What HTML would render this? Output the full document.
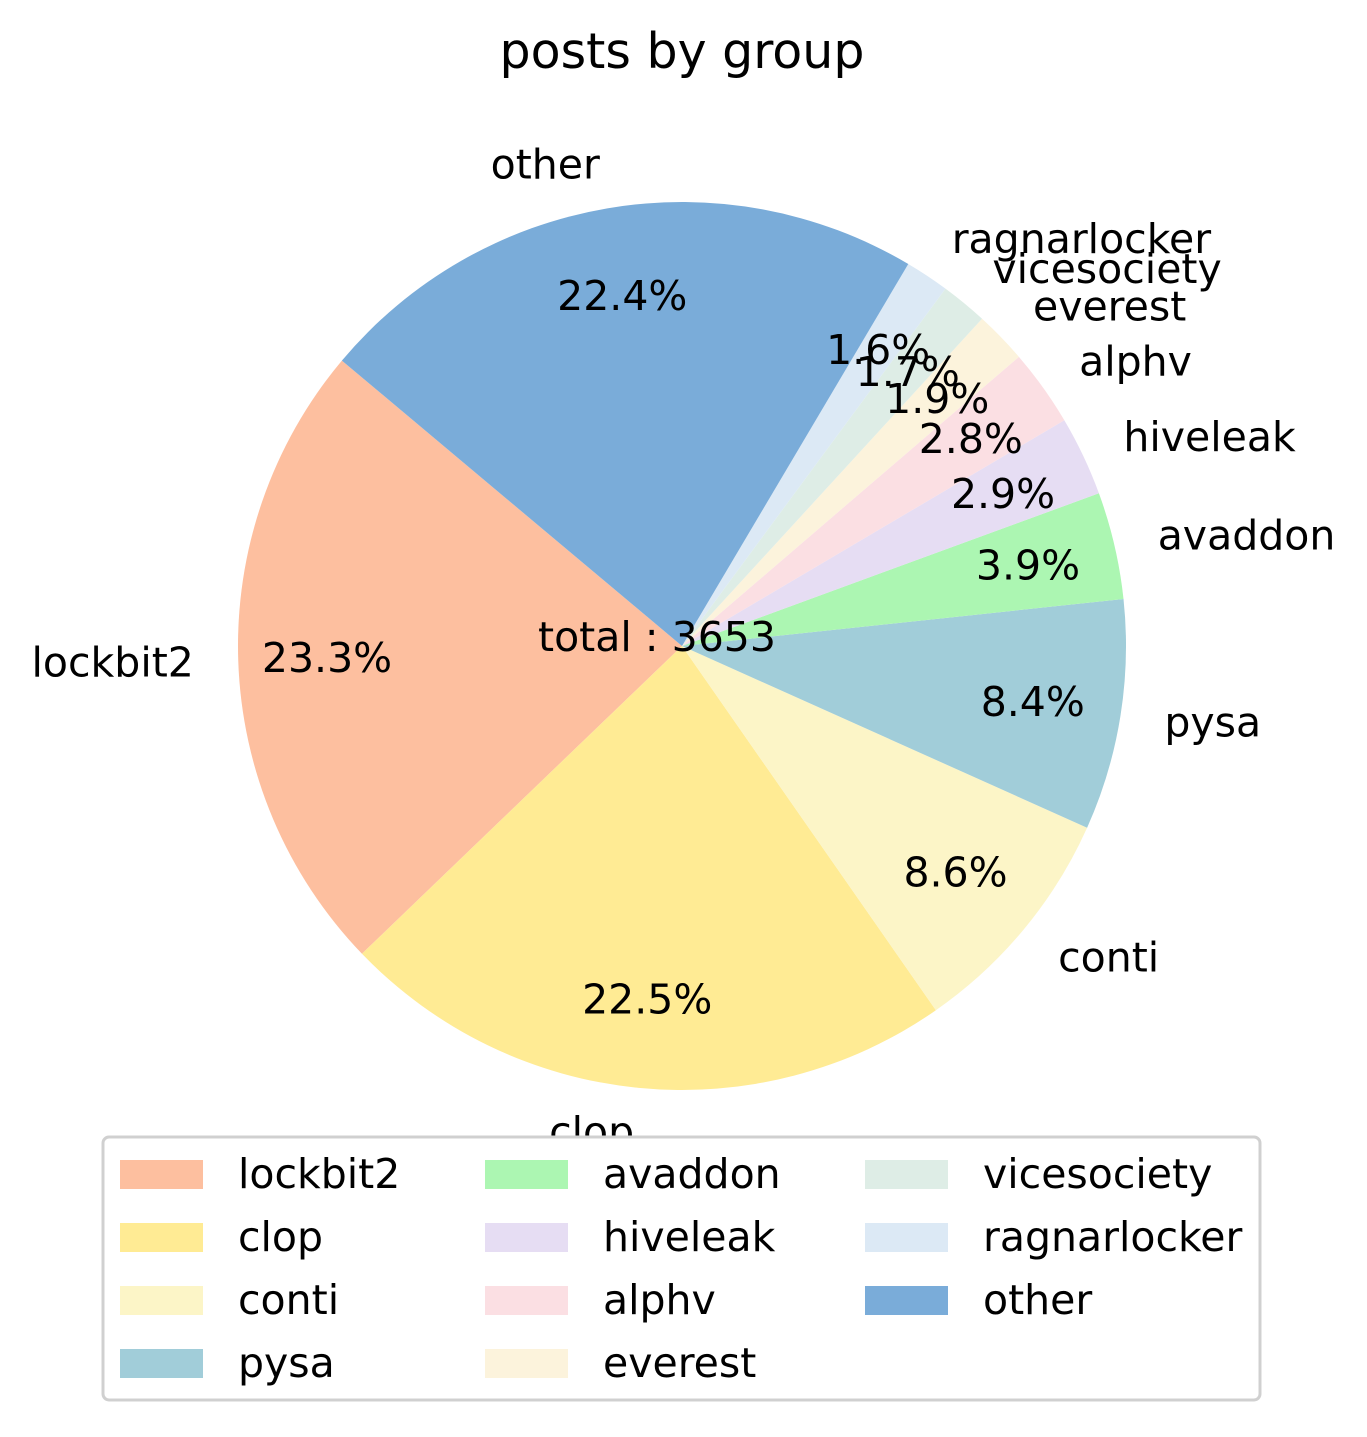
<!DOCTYPE html>
<html><head><meta charset="utf-8"><style>
body{margin:0;background:#fff}
svg text{font-family:"DejaVu Sans","Liberation Sans",sans-serif;fill:#000}
</style></head><body>
<svg id="chart" width="1367" height="1432" viewBox="0 0 1367 1432">
<text x="682" y="68" font-size="49" text-anchor="middle">posts by group</text>
<g id="slices"></g>
<g id="labels"></g>
<text x="657" y="651" font-size="41" text-anchor="middle">total : 3653</text>
<g id="legend"><rect x="103" y="1137" width="1157" height="263" rx="6" fill="#fff" stroke="#d0d0d0" stroke-width="3"/></g>
</svg>
<script>
const groups=["lockbit2","clop","conti","pysa","avaddon","hiveleak","alphv","everest","vicesociety","ragnarlocker","other"];
const shares=[23.3,22.5,8.6,8.4,3.9,2.9,2.8,1.9,1.7,1.6,22.4];
const colors=["#fdbf9f","#ffeb94","#fcf5c7","#a1cdd9","#acf6b2","#e6ddf3","#fbdfe3","#fcf3dc","#deede6","#dce9f5","#7aacd9"];
const NS="http://www.w3.org/2000/svg";
const cx=682,cy=646,R=444,start=140;
const total=shares.reduce((a,b)=>a+b,0);
const sl=document.getElementById('slices'),lb=document.getElementById('labels'),lg=document.getElementById('legend');
function pt(a,r){const t=a*Math.PI/180;return [cx+r*Math.cos(t),cy-r*Math.sin(t)];}
let a=start;
shares.forEach((v,i)=>{
 const sw=v/total*360,a2=a+sw;
 const p1=pt(a,R),p2=pt(a2,R);
 const path=document.createElementNS(NS,'path');
 path.setAttribute('d',`M${cx},${cy} L${p1[0]},${p1[1]} A${R},${R} 0 ${sw>180?1:0} 0 ${p2[0]},${p2[1]} Z`);
 path.setAttribute('fill',colors[i]);
 
 
 sl.appendChild(path);
 const m=(a+a2)/2;
 const lp=pt(m,R*1.1);
 const t=document.createElementNS(NS,'text');
 t.setAttribute('x',lp[0]);t.setAttribute('y',lp[1]+14);t.setAttribute('font-size','41');
 t.setAttribute('text-anchor',Math.cos(m*Math.PI/180)>=0?'start':'end');
 t.textContent=groups[i];
 
 
 lb.appendChild(t);
 const pp=pt(m,R*0.8);
 const q=document.createElementNS(NS,'text');
 q.setAttribute('x',pp[0]);q.setAttribute('y',pp[1]+14);q.setAttribute('font-size','41');q.setAttribute('text-anchor','middle');
 q.textContent=v.toFixed(1)+'%';
 
 
 lb.appendChild(q);
 a=a2;
});
const colX=[120,485,865],rowY=[1174,1237,1300,1363];
groups.forEach((g,i)=>{
 const c=Math.floor(i/4),r=i%4;
 const rc=document.createElementNS(NS,'rect');
 rc.setAttribute('x',colX[c]);rc.setAttribute('y',rowY[r]-14);rc.setAttribute('width',83);rc.setAttribute('height',29);rc.setAttribute('fill',colors[i]);
 
 
 lg.appendChild(rc);
 const t=document.createElementNS(NS,'text');
 t.setAttribute('x',colX[c]+118);t.setAttribute('y',rowY[r]+14);t.setAttribute('font-size','41');
 t.textContent=g;
 
 
 lg.appendChild(t);
});
</script>
</body></html>
